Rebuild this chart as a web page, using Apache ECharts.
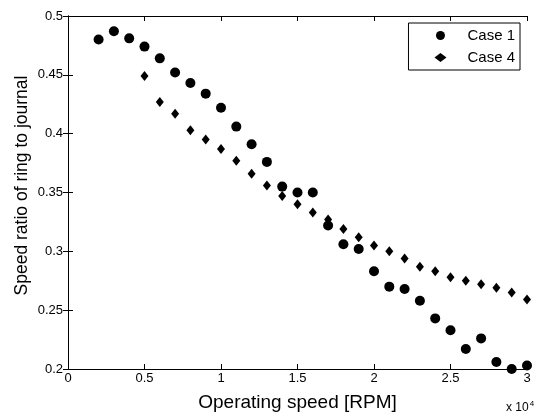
<!DOCTYPE html>
<html><head><meta charset="utf-8">
<script src="https://cdn.jsdelivr.net/npm/echarts@6/dist/echarts.min.js"></script>
<style>html,body{margin:0;padding:0;background:#fff}#c{width:537px;height:417px}</style>
</head><body><div id="c"></div>
<script>
const speedCase1 = [2000,3000,4000,5000,6000,7000,8000,9000,10000,11000,12000,13000,14000,15000,16000,17000,18000,19000,20000,21000,22000,23000,24000,25000,26000,27000,28000,29000,30000];
const ratioCase1 = [0.480,0.487,0.481,0.474,0.464,0.452,0.443,0.434,0.422,0.406,0.391,0.376,0.355,0.350,0.350,0.322,0.306,0.302,0.283,0.270,0.268,0.258,0.243,0.233,0.217,0.226,0.206,0.200,0.203];
const speedCase4 = [5000,6000,7000,8000,9000,10000,11000,12000,13000,14000,15000,16000,17000,18000,19000,20000,21000,22000,23000,24000,25000,26000,27000,28000,29000,30000];
const ratioCase4 = [0.449,0.427,0.417,0.403,0.395,0.387,0.377,0.366,0.356,0.347,0.340,0.333,0.327,0.319,0.312,0.305,0.300,0.294,0.287,0.283,0.278,0.275,0.272,0.269,0.265,0.259];
const seriesNames = ['Case 1','Case 4'];

const font = 'Arial, "Liberation Sans", sans-serif';
const chart = echarts.init(document.getElementById('c'));
const axisLineStyle = {color:'#000', width:1};
chart.setOption({
  animation:false,
  backgroundColor:'#fff',
  grid:{left:68, right:10, top:16, bottom:44, show:false},
  legend:{
    data:seriesNames.map(n=>({name:n, itemStyle:{opacity:1}})),
    orient:'vertical', right:17, top:23, itemGap:7,
    itemWidth:12, itemHeight:9,
    backgroundColor:'#fff', borderColor:'#000', borderWidth:1,
    padding:[5,5,5,26],
    textStyle:{fontFamily:font, fontSize:15, color:'#000', padding:[0,0,0,16]}
  },
  xAxis:[{
    type:'value', min:0, max:30000, interval:5000,
    name:'Operating speed [RPM]', nameLocation:'middle', nameGap:24, nameMoveOverlap:false,
    nameTextStyle:{fontFamily:font, fontSize:19, color:'#000'},
    axisLine:{show:true, lineStyle:axisLineStyle},
    axisTick:{show:true, inside:true, length:5, lineStyle:axisLineStyle},
    axisLabel:{fontFamily:font, fontSize:13, color:'#000', margin:3, formatter:v=>String(v/10000)},
    splitLine:{show:false}
  },{
    type:'value', position:'top', min:0, max:30000, interval:5000,
    axisLine:{show:true, lineStyle:axisLineStyle},
    axisTick:{show:true, inside:true, length:5, lineStyle:axisLineStyle},
    axisLabel:{show:false}, splitLine:{show:false}
  }],
  yAxis:[{
    type:'value', min:0.2, max:0.5, interval:0.05,
    name:'Speed ratio of ring to journal', nameLocation:'middle', nameGap:37, nameMoveOverlap:false,
    nameTextStyle:{fontFamily:font, fontSize:17.5, color:'#000', padding:[0,0,0,14]},
    axisLine:{show:true, lineStyle:axisLineStyle},
    axisTick:{show:true, inside:true, length:5, lineStyle:axisLineStyle},
    axisLabel:{fontFamily:font, fontSize:13, color:'#000', margin:5, formatter:v=>String(+v.toFixed(2))},
    splitLine:{show:false}
  },{
    type:'value', position:'right', min:0.2, max:0.5, interval:0.05,
    axisLine:{show:true, lineStyle:axisLineStyle},
    axisTick:{show:true, inside:true, length:5, lineStyle:axisLineStyle},
    axisLabel:{show:false}, splitLine:{show:false}
  }],
  series:[{
    name:seriesNames[0], type:'scatter', symbol:'circle', symbolSize:10,
    itemStyle:{color:'#000', opacity:1},
    data:speedCase1.map((x,i)=>[x, ratioCase1[i]])
  },{
    name:seriesNames[1], type:'scatter', symbol:'diamond', symbolSize:[8,10],
    itemStyle:{color:'#000', opacity:1},
    data:speedCase4.map((x,i)=>[x, ratioCase4[i]])
  }],
  graphic:[{
    type:'text', left:506, top:400,
    style:{
      text:'{a|x 10}{b|4}',
      rich:{a:{fontFamily:font, fontSize:12, fill:'#000'}, b:{fontFamily:font, fontSize:8, fill:'#000', verticalAlign:'top', padding:[0,0,8,1]}}
    }
  }]
});
</script></body></html>
